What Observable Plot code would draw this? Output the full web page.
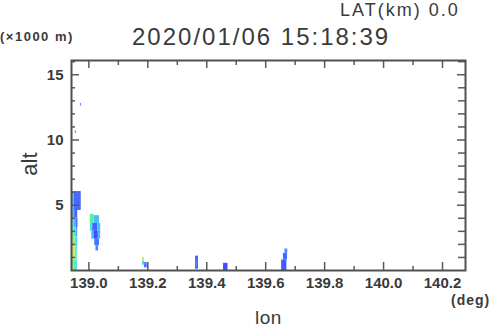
<!DOCTYPE html>
<html>
<head>
<meta charset="utf-8">
<script src="https://cdn.jsdelivr.net/npm/d3@7"></script>
<script src="https://cdn.jsdelivr.net/npm/@observablehq/plot@0.6"></script>
<style>
  html, body { margin: 0; padding: 0; background: #fff; }
  #wrap { position: relative; width: 490px; height: 331px; overflow: hidden; font-family: "Liberation Sans", Arial, sans-serif; color: #3a3a3a; }
  #wrap svg { position: absolute; left: 0; top: 0; }
  .t { position: absolute; line-height: 1; white-space: nowrap; }
</style>
</head>
<body>
<div id="wrap"></div>
<script>
// Chart text
const titleText = "2020/01/06 15:18:39";
const latText = "LAT(km) 0.0";
const yUnitText = "(×1000 m)";
const xUnitText = "(deg)";
const xLabel = "lon";
const yLabel = "alt";

// Axes
const lonDomain = [138.941, 140.278];
const altDomain = [0, 16.09];
const xMajor = [139.0, 139.2, 139.4, 139.6, 139.8, 140.0, 140.2];
const xMinor = [139.1, 139.3, 139.5, 139.7, 139.9, 140.1];
const yMajor = [5, 10, 15];
const yMinor = [1, 2, 3, 4, 6, 7, 8, 9, 11, 12, 13, 14, 16];

// Echo intensity colour levels
const levelValues = [1, 2, 3, 4, 5, 6, 7];
const levelColors = ["#3a44ff", "#4f90ff", "#4cd8f6", "#50f0a8", "#88f066", "#c8f04e", "#f4f042"];

// Echo cells: [lon0, lon1, alt0, alt1, intensity]
const echoCells = [
  // main column at left edge
  [138.941, 138.950, 4.6, 6.05, 2.5],
  [138.950, 138.974, 4.6, 6.05, 1.5],
  [138.941, 138.952, 4.0, 4.6, 2.6],
  [138.952, 138.962, 4.0, 4.6, 1.4],
  [138.941, 138.950, 3.3, 4.0, 3.2],
  [138.950, 138.958, 3.3, 4.0, 2.5],
  [138.958, 138.963, 3.3, 4.0, 1.6],
  [138.941, 138.950, 2.6, 3.3, 4.5],
  [138.950, 138.957, 2.6, 3.3, 3.5],
  [138.957, 138.962, 2.6, 3.3, 2.2],
  [138.941, 138.952, 1.8, 2.6, 5.5],
  [138.952, 138.958, 1.8, 2.6, 4.5],
  [138.958, 138.962, 1.8, 2.6, 3.0],
  [138.941, 138.953, 0.8, 1.8, 6.0],
  [138.953, 138.959, 0.8, 1.8, 5.0],
  [138.959, 138.962, 0.8, 1.8, 3.5],
  [138.941, 138.950, 0.0, 0.8, 5.0],
  [138.950, 138.958, 0.0, 0.8, 4.0],
  [138.958, 138.961, 0.0, 0.8, 3.0],
  // second cell near 139.02
  [139.005, 139.018, 3.6, 4.3, 4.0],
  [139.018, 139.036, 3.6, 4.2, 2.6],
  [139.005, 139.013, 3.0, 3.6, 3.5],
  [139.013, 139.030, 3.0, 3.6, 1.4],
  [139.030, 139.040, 3.0, 3.6, 2.6],
  [139.010, 139.018, 2.4, 3.0, 2.5],
  [139.018, 139.032, 2.4, 3.0, 1.1],
  [139.032, 139.040, 2.4, 3.0, 2.5],
  [139.020, 139.036, 1.9, 2.4, 1.6],
  [139.024, 139.033, 1.5, 1.9, 1.8],
  // small cell near 139.19
  [139.182, 139.189, 0.7, 1.0, 6.0],
  [139.182, 139.189, 0.4, 0.7, 3.0],
  [139.189, 139.198, 0.2, 0.6, 1.6],
  // cell near 139.37
  [139.362, 139.372, 0.1, 1.1, 1.4],
  [139.365, 139.369, 0.3, 0.8, 2.0],
  // cell near 139.46
  [139.457, 139.472, 0.0, 0.55, 1.1],
  // cell near 139.66
  [139.654, 139.672, 0.0, 0.8, 1.3],
  [139.660, 139.674, 0.8, 1.3, 1.5],
  [139.665, 139.675, 1.3, 1.65, 2.0],
  // isolated specks aloft
  [138.971, 138.975, 12.6, 12.8, 2.0],
  [138.954, 138.958, 10.5, 10.7, 2.0]
];

const cells = echoCells.map(([lon0, lon1, alt0, alt1, v]) => ({lon0, lon1, alt0, alt1, v}));

const W = 490, H = 331;
const mL = 71, mR = 25, mT = 60, mB = 61;
const fw = W - mL - mR, fh = H - mT - mB;
const tickCol = "#5a5a5a";

const plot = Plot.plot({
  width: W, height: H,
  marginLeft: mL, marginRight: mR, marginTop: mT, marginBottom: mB,
  style: {background: "transparent", fontFamily: "Liberation Sans, Arial, sans-serif"},
  x: {domain: lonDomain, axis: null},
  y: {domain: altDomain, axis: null},
  color: {type: "linear", domain: levelValues, range: levelColors, interpolate: "rgb"},
  marks: [
    Plot.rect(cells, {x1: "lon0", x2: "lon1", y1: "alt0", y2: "alt1", fill: "v"}),
    // bottom ticks
    Plot.tickX(xMajor, {x: d => d, insetTop: fh - 8, stroke: tickCol, strokeWidth: 1.5}),
    Plot.tickX(xMinor, {x: d => d, insetTop: fh - 4, stroke: tickCol, strokeWidth: 1.5}),
    // top ticks
    Plot.tickX(xMajor, {x: d => d, insetBottom: fh - 8, stroke: tickCol, strokeWidth: 1.5}),
    Plot.tickX(xMinor, {x: d => d, insetBottom: fh - 5, stroke: tickCol, strokeWidth: 1.5}),
    // left ticks
    Plot.tickY(yMajor, {y: d => d, insetRight: fw - 8, stroke: tickCol, strokeWidth: 1.5}),
    Plot.tickY(yMinor, {y: d => d, insetRight: fw - 4, stroke: tickCol, strokeWidth: 1.5}),
    // right ticks
    Plot.tickY(yMajor, {y: d => d, insetLeft: fw - 8, stroke: tickCol, strokeWidth: 1.5}),
    Plot.tickY(yMinor, {y: d => d, insetLeft: fw - 7, stroke: tickCol, strokeWidth: 1.5}),
    Plot.frame({stroke: "#505050", strokeWidth: 2}),
    // tick labels
    Plot.text(xMajor, {x: d => d, text: d => d.toFixed(1), frameAnchor: "bottom", dy: 13, lineAnchor: "middle",
      fontSize: 15, fontWeight: "bold", fill: "#3a3a3a", letterSpacing: "0.5px"}),
    Plot.text(yMajor, {y: d => d, text: d => String(d), frameAnchor: "left", dx: -8, textAnchor: "end", lineAnchor: "middle",
      fontSize: 15, fontWeight: "bold", fill: "#3a3a3a", letterSpacing: "0.5px"})
  ]
});

const wrap = document.getElementById("wrap");
wrap.appendChild(plot);

function addText(txt, css) {
  const d = document.createElement("div");
  d.className = "t";
  d.textContent = txt;
  Object.assign(d.style, css);
  wrap.appendChild(d);
  return d;
}
addText(latText, {left: "340px", top: "1px", fontSize: "18px", letterSpacing: "2px"});
addText(titleText, {left: "132px", top: "25px", fontSize: "24px", letterSpacing: "2px"});
addText(yUnitText, {left: "0px", top: "30px", fontSize: "13px", fontWeight: "bold", letterSpacing: "1.5px"});
addText(xUnitText, {left: "451px", top: "293px", fontSize: "14px", fontWeight: "bold", letterSpacing: "1px"});
addText(xLabel, {left: "255px", top: "310px", fontSize: "19px", lineHeight: "0.8", letterSpacing: "0.5px"});
addText(yLabel, {left: "30px", top: "164px", fontSize: "22px", transform: "translate(-50%, -50%) rotate(-90deg)", transformOrigin: "center"});
</script>
</body>
</html>
